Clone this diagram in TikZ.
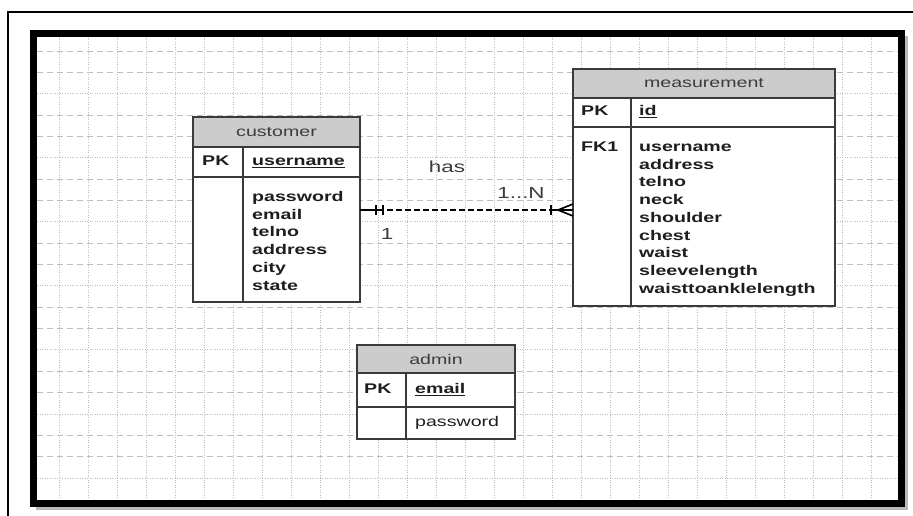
\documentclass[tikz,border=0pt]{standalone}
\usepackage{fontspec}
\usepackage{tikz}
\usetikzlibrary{positioning,calc}

\newfontfamily\erfont[FakeStretch=1.4]{Liberation Sans}
\newcommand{\erfs}{\erfont\fontsize{14pt}{17pt}\selectfont}
\newcommand{\erls}{\erfont\fontsize{16pt}{19pt}\selectfont}

\definecolor{erline}{HTML}{3A3A3A}
\definecolor{erhead}{HTML}{CCCCCC}
\definecolor{ertitle}{HTML}{3C3C3C}
\definecolor{erbold}{HTML}{1E1E1E}
\definecolor{gridgray}{HTML}{BDBDBD}

\begin{document}
\begin{tikzpicture}[
    x=1pt, y=1pt,
    enthead/.style={draw=erline, line width=1.3pt, fill=erhead, outer sep=0pt,
                    inner sep=0pt, anchor=north west, font=\erfs, text=ertitle},
    cell/.style={draw=erline, line width=1.3pt, fill=white, outer sep=0pt, inner sep=0pt},
    keytag/.style={font=\erfs\bfseries, text=erbold, inner sep=0pt,
                   text height=10pt, text depth=3pt},
    attr/.style={keytag, anchor=base west},
    rellabel/.style={font=\erls, text=ertitle, inner sep=0pt},
    rel/.style={line width=1.6pt, dash pattern=on 6pt off 3pt},
    erbar/.style={line width=1.6pt},
    griddash/.style={gridgray, line width=0.9pt, dash pattern=on 6pt off 4pt},
    griddot/.style={gridgray, line width=0.9pt, dash pattern=on 1pt off 1.5pt}
  ]
    \useasboundingbox (0,0) rectangle (913,-516);
    \fill[white] (0,0) rectangle (913,-516);

    % page frame
    \draw[line width=1.5pt] (913,-12) -- (8,-12) -- (8,-516);
    \fill[black!28] (36,-36) rectangle (908,-510);
    \draw[line width=7pt, fill=white] (33.5,-33.5) rectangle (901.5,-503);

    % grid
    \begin{scope}
      \clip (37,-37) rectangle (898,-499);
      \foreach \gx in {0,...,28}
        \draw[griddot] ({59+29*\gx},-37) -- ({59+29*\gx},-499);
      \foreach \gy in {0,...,20}{
        \pgfmathtruncatemacro\gm{mod(\gy,3)}
        \ifnum\gm=2
          \draw[griddot] (37,{-51-21.35*\gy}) -- (898,{-51-21.35*\gy});
        \else
          \draw[griddash] (37,{-51-21.35*\gy}) -- (898,{-51-21.35*\gy});
        \fi
      }
    \end{scope}

    % customer
    \node[enthead, minimum width=167pt, minimum height=30pt] (customer) at (193,-117) {customer};
    \node[cell, minimum width=50pt, minimum height=30pt, below right=0pt of customer.south west] (custpkl) {};
    \node[cell, minimum width=117pt, minimum height=30pt, right=0pt of custpkl] (custpkr) {};
    \node[cell, minimum width=50pt, minimum height=125pt, below right=0pt of custpkl.south west] (custbodyl) {};
    \node[cell, minimum width=117pt, minimum height=125pt, right=0pt of custbodyl] (custbodyr) {};
    \node[keytag, right=9pt of custpkl.west] (custpk) {PK};
    \node[keytag, right=9pt of custpkr.west] (custkey) {\underline{username}};
    \foreach \a [count=\i from 0] in {password,email,telno,address,city,state}
      \node[attr] (cust-\a) at ($(custbodyr.north west)+(9,-24.5-17.7*\i)$) {\a};

    % measurement
    \node[enthead, minimum width=262pt, minimum height=29pt] (measurement) at (573,-69) {measurement};
    \node[cell, minimum width=58pt, minimum height=29pt, below right=0pt of measurement.south west] (measpkl) {};
    \node[cell, minimum width=204pt, minimum height=29pt, right=0pt of measpkl] (measpkr) {};
    \node[cell, minimum width=58pt, minimum height=179pt, below right=0pt of measpkl.south west] (measbodyl) {};
    \node[cell, minimum width=204pt, minimum height=179pt, right=0pt of measbodyl] (measbodyr) {};
    \node[keytag, right=8pt of measpkl.west] (measpk) {PK};
    \node[keytag, right=8pt of measpkr.west] (measkey) {\underline{id}};
    \node[attr] (measfk) at ($(measbodyl.north west)+(8,-24.5)$) {FK1};
    \foreach \a [count=\i from 0] in {username,address,telno,neck,shoulder,chest,waist,sleevelength,waisttoanklelength}
      \node[attr] (meas-\a) at ($(measbodyr.north west)+(8,-24.5-17.7*\i)$) {\a};

    % admin
    \node[enthead, minimum width=158pt, minimum height=28pt] (admin) at (357,-345) {admin};
    \node[cell, minimum width=49pt, minimum height=34pt, below right=0pt of admin.south west] (admpkl) {};
    \node[cell, minimum width=109pt, minimum height=34pt, right=0pt of admpkl] (admpkr) {};
    \node[cell, minimum width=49pt, minimum height=32pt, below right=0pt of admpkl.south west] (admbodyl) {};
    \node[cell, minimum width=109pt, minimum height=32pt, right=0pt of admbodyl] (admbodyr) {};
    \node[keytag, right=7pt of admpkl.west] (admpk) {PK};
    \node[keytag, right=9pt of admpkr.west] (admkey) {\underline{email}};
    \node[keytag, font=\erfs, right=9pt of admbodyr.west] (admpass) {password};

    % relationship
    \coordinate (hasy) at (0,-210);
    \draw[rel] (custbodyr.east |- hasy) coordinate (relA) -- (measbodyl.west |- hasy) coordinate (relB);
    \draw[erbar] (relA) -- ($(relA)+(23,0)$);
    \draw[erbar] ($(relA)+(16,5)$) -- ($(relA)+(16,-5)$);
    \draw[erbar] ($(relA)+(23,5)$) -- ($(relA)+(23,-5)$);
    \draw[erbar] ($(relB)+(-22,0)$) -- (relB);
    \draw[erbar] ($(relB)+(-22,5)$) -- ($(relB)+(-22,-5)$);
    \draw[erbar] ($(relB)+(0,6)$) -- ($(relB)+(-15,0)$) -- ($(relB)+(0,-6)$);
    \node[rellabel] (hastxt) at (447,-167) {has};
    \node[rellabel] (manytxt) at (521,-193) {1...N};
    \node[rellabel] (onetxt) at (387,-234) {1};
  \end{tikzpicture}
\end{document}
